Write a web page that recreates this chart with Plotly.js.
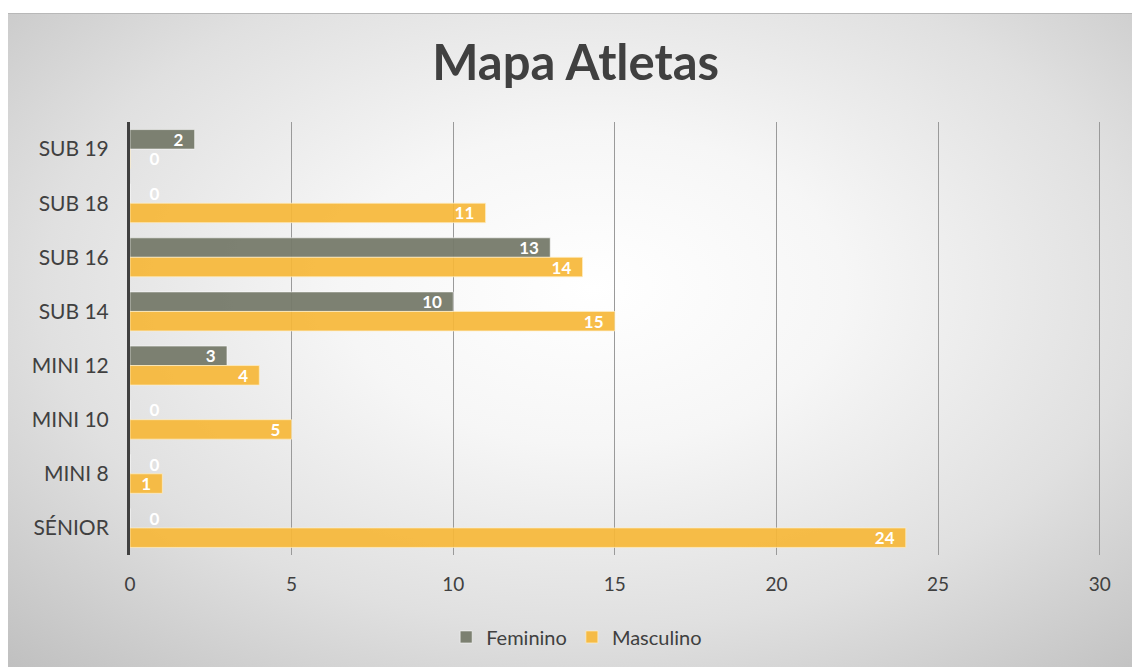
<!DOCTYPE html>
<html>
<head>
<meta charset="utf-8">
<script src="https://cdn.plot.ly/plotly-3.0.1.min.js"></script>
<style>
  html, body { margin: 0; padding: 0; background: #ffffff; width: 1132px; height: 667px; overflow: hidden; }
  #frame {
    position: absolute; left: 8px; top: 13px; width: 1124px; height: 653px;
    border-top: 1px solid #b8b8b8;
    background: radial-gradient(ellipse 75% 80% at 52% 42%, #ffffff 0%, #f6f6f6 30%, #e0e0e0 65%, #c0c0c0 100%);
  }
  #chart { position: absolute; left: 0; top: 0; width: 1124px; height: 653px; }
</style>
</head>
<body>
<div id="frame"><div id="chart"></div></div>
<script>
const categories = ["SUB 19", "SUB 18", "SUB 16", "SUB 14", "MINI 12", "MINI 10", "MINI 8", "SÉNIOR"];
const feminino  = [2, 0, 13, 10, 3, 0, 0, 0];
const masculino = [0, 11, 14, 15, 4, 5, 1, 24];
const seriesNames = ["Feminino", "Masculino"];
const xTicks = [0, 5, 10, 15, 20, 25, 30];

const NB = "\u00a0";
function labels(vals) {
  return vals.map(v => v === 0 ? NB + NB + NB + NB + "0" : String(v) + NB + NB);
}
function positions(vals) {
  return vals.map(v => v === 0 ? "outside" : "inside");
}

const labelFont = { family: "Lato, 'Open Sans', sans-serif", size: 17, color: "#ffffff", weight: "bold" };

const traces = [
  {
    type: "bar", orientation: "h", name: seriesNames[0],
    y: categories, x: feminino,
    text: labels(feminino), textposition: positions(feminino),
    insidetextanchor: "end", textangle: 0, constraintext: "none",
    textfont: labelFont, insidetextfont: labelFont, outsidetextfont: labelFont,
    cliponaxis: false,
    marker: { color: "rgba(118,122,106,0.95)", line: { color: "rgba(255,255,255,0.55)", width: 1 } },
    hoverinfo: "x+y"
  },
  {
    type: "bar", orientation: "h", name: seriesNames[1],
    y: categories, x: masculino,
    text: labels(masculino), textposition: positions(masculino),
    insidetextanchor: "end", textangle: 0, constraintext: "none",
    textfont: labelFont, insidetextfont: labelFont, outsidetextfont: labelFont,
    cliponaxis: false,
    marker: { color: "rgba(246,183,56,0.92)", line: { color: "rgba(255,240,200,0.7)", width: 1 } },
    hoverinfo: "x+y"
  }
];

const layout = {
  width: 1124, height: 653,
  paper_bgcolor: "rgba(0,0,0,0)", plot_bgcolor: "rgba(0,0,0,0)",
  margin: { l: 122, r: 31, t: 108, b: 112, autoexpand: false },
  font: { family: "Lato, 'Open Sans', sans-serif", color: "#404040" },
  title: {
    text: "<b>Mapa Atletas</b>",
    font: { family: "Lato, 'Open Sans', sans-serif", size: 49, color: "#404040" },
    x: 0.505, xanchor: "center", y: 0.925, yanchor: "middle"
  },
  barmode: "group", bargap: 0.28, bargroupgap: 0,
  xaxis: {
    range: [0, 30.04], tickvals: xTicks, ticktext: xTicks.map(String),
    showgrid: true, gridcolor: "#9a9a9a", gridwidth: 1,
    zeroline: false, showline: false, ticks: "",
    tickfont: { size: 19, color: "#404040" }, ticklabelstandoff: 16,
    fixedrange: true, automargin: false
  },
  yaxis: {
    type: "category", categoryorder: "array", categoryarray: categories,
    autorange: "reversed",
    showgrid: false, zeroline: false,
    showline: true, linecolor: "#404040", linewidth: 3, ticks: "",
    tickfont: { size: 21, color: "#404040" }, ticklabelstandoff: 14,
    fixedrange: true, automargin: false
  },
  legend: {
    orientation: "h", x: 0.46, xanchor: "center",
    yref: "container", y: 0.046, yanchor: "middle",
    font: { size: 20, color: "#404040" }, traceorder: "normal",
    itemwidth: 30, bgcolor: "rgba(0,0,0,0)"
  },
  showlegend: true
};

Plotly.newPlot("chart", traces, layout, { displayModeBar: false, staticPlot: true });
</script>
</body>
</html>
